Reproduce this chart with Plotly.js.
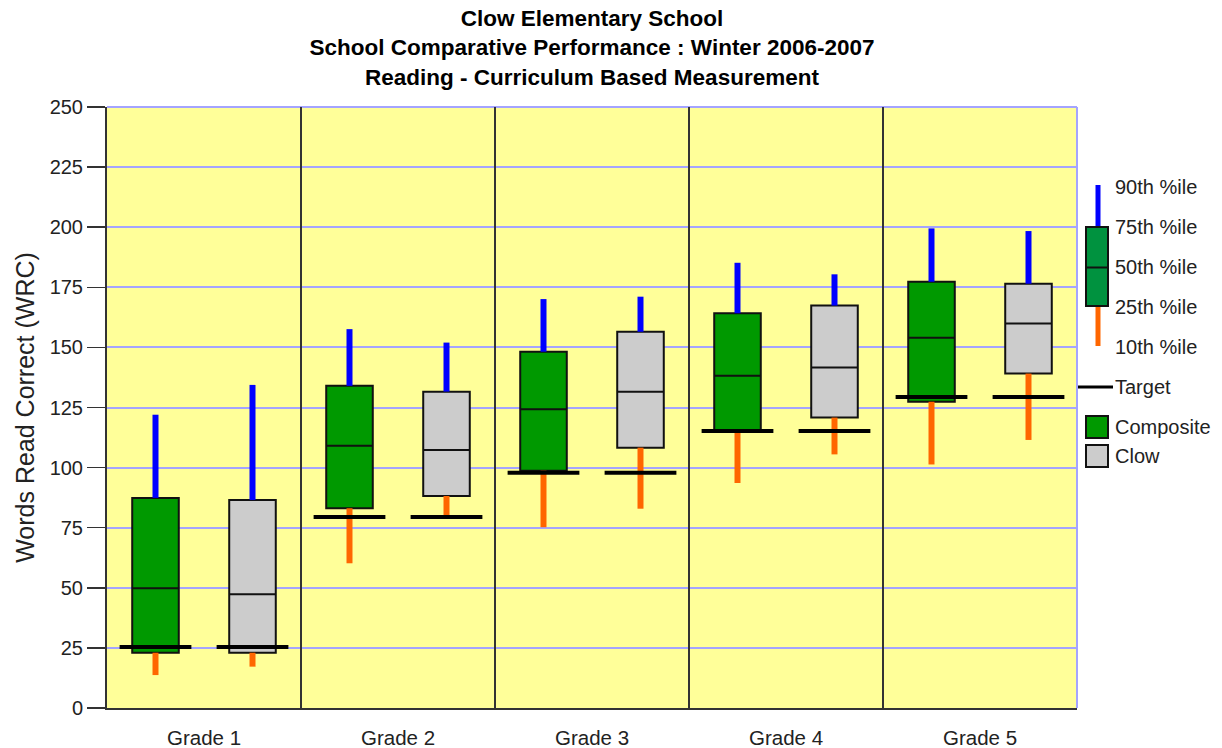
<!DOCTYPE html>
<html>
<head>
<meta charset="utf-8">
<script src="https://cdn.plot.ly/plotly-3.0.1.min.js"></script>
<style>html,body{margin:0;padding:0;background:#fff;}#chart{width:1222px;height:748px;}</style>
</head>
<body>
<div id="chart"></div>
<script>
// ---- Data ----
const categories = ['Grade 1', 'Grade 2', 'Grade 3', 'Grade 4', 'Grade 5'];

const compositeP10 = [13.7, 60.2, 75.2, 93.6, 101.3];
const compositeP25 = [23.0, 83.1, 98.7, 115.6, 127.4];
const compositeP50 = [49.8, 109.1, 124.3, 138.2, 154.0];
const compositeP75 = [87.4, 134.0, 148.2, 164.2, 177.3];
const compositeP90 = [122.0, 157.6, 170.1, 185.2, 199.5];

const clowP10 = [17.2, 79.9, 82.9, 105.5, 111.5];
const clowP25 = [23.0, 88.2, 108.3, 120.8, 139.1];
const clowP50 = [47.3, 107.3, 131.6, 141.6, 159.9];
const clowP75 = [86.5, 131.6, 156.5, 167.4, 176.5];
const clowP90 = [134.4, 152.0, 171.1, 180.4, 198.4];

const targets = [25.4, 79.5, 97.9, 115.2, 129.4];

const legendLabels = ['90th %ile', '75th %ile', '50th %ile', '25th %ile', '10th %ile'];
const seriesNames = ['Composite', 'Clow'];

// ---- Styling ----
const FONT = '"Liberation Sans", Arial, sans-serif';
const GREEN = '#009900';
const GRAY = '#cccccc';
const BLUE = '#0000ff';
const ORANGE = '#ff6600';
const GRID = '#a4a4ff';
const BOXW = 0.24, MEDW = 0.12, TGTW = 0.185, OFFSET = 0.25;

const centers = categories.map((c, i) => i + 0.5);

function boxTraces(offset, p10, p25, p50, p75, p90, fill, name) {
  const xs = centers.map(c => c + offset);
  const traces = [];
  traces.push({
    type: 'bar', name: name, x: xs, base: p25, y: p75.map((v, i) => v - p25[i]),
    width: BOXW, marker: {color: fill, line: {color: '#111', width: 2}},
    showlegend: false, hoverinfo: 'skip'
  });
  const upX = [], upY = [], loX = [], loY = [], mX = [], mY = [];
  xs.forEach((x, i) => {
    upX.push(x, x, null); upY.push(p75[i], p90[i], null);
    loX.push(x, x, null); loY.push(p10[i], p25[i], null);
    mX.push(x - MEDW, x + MEDW, null); mY.push(p50[i], p50[i], null);
  });
  traces.push({type: 'scatter', mode: 'lines', x: upX, y: upY, line: {color: BLUE, width: 6}, showlegend: false, hoverinfo: 'skip'});
  traces.push({type: 'scatter', mode: 'lines', x: loX, y: loY, line: {color: ORANGE, width: 6}, showlegend: false, hoverinfo: 'skip'});
  traces.push({type: 'scatter', mode: 'lines', x: mX, y: mY, line: {color: '#111', width: 2}, showlegend: false, hoverinfo: 'skip'});
  const tX = [], tY = [];
  xs.forEach((x, i) => { tX.push(x - TGTW, x + TGTW, null); tY.push(targets[i], targets[i], null); });
  traces.push({type: 'scatter', mode: 'lines', x: tX, y: tY, line: {color: '#000', width: 4}, showlegend: false, hoverinfo: 'skip'});
  return traces;
}

const data = [].concat(
  boxTraces(-OFFSET, compositeP10, compositeP25, compositeP50, compositeP75, compositeP90, GREEN, seriesNames[0]),
  boxTraces(OFFSET, clowP10, clowP25, clowP50, clowP75, clowP90, GRAY, seriesNames[1])
);

// ---- Layout helpers (pixel -> paper for the hand-drawn key) ----
const L = 107, R = 1077, T = 107, B = 708;
const px = p => (p - L) / (R - L);
const py = p => (B - p) / (B - T);

const shapes = [];
// category separators
for (let i = 1; i < categories.length; i++) {
  shapes.push({type: 'line', xref: 'x', yref: 'paper', x0: i, x1: i, y0: 0, y1: 1, line: {color: '#333', width: 2}, layer: 'above'});
}
// top / right frame in grid colour
shapes.push({type: 'line', xref: 'paper', yref: 'paper', x0: 0, x1: 1, y0: 1, y1: 1, line: {color: GRID, width: 2}, layer: 'below'});
shapes.push({type: 'line', xref: 'paper', yref: 'paper', x0: 1, x1: 1, y0: 0, y1: 1, line: {color: GRID, width: 2}, layer: 'below'});

// key: percentile glyph
shapes.push({type: 'line', xref: 'paper', yref: 'paper', x0: px(1098), x1: px(1098), y0: py(185), y1: py(227), line: {color: BLUE, width: 5}});
shapes.push({type: 'line', xref: 'paper', yref: 'paper', x0: px(1098), x1: px(1098), y0: py(306), y1: py(346), line: {color: ORANGE, width: 5}});
shapes.push({type: 'rect', xref: 'paper', yref: 'paper', x0: px(1086), x1: px(1108), y0: py(306), y1: py(227), fillcolor: '#00923f', line: {color: '#111', width: 2}});
shapes.push({type: 'line', xref: 'paper', yref: 'paper', x0: px(1086), x1: px(1108), y0: py(267.5), y1: py(267.5), line: {color: '#111', width: 2}});
// key: target
shapes.push({type: 'line', xref: 'paper', yref: 'paper', x0: px(1078), x1: px(1113), y0: py(387), y1: py(387), line: {color: '#000', width: 3}});
// key: series squares
shapes.push({type: 'rect', xref: 'paper', yref: 'paper', x0: px(1086), x1: px(1108), y0: py(438), y1: py(416), fillcolor: GREEN, line: {color: '#111', width: 2}});
shapes.push({type: 'rect', xref: 'paper', yref: 'paper', x0: px(1086), x1: px(1108), y0: py(467), y1: py(445), fillcolor: GRAY, line: {color: '#111', width: 2}});

const annotations = [];
const labelY = [187, 227, 267, 307, 347];
legendLabels.forEach((t, i) => {
  annotations.push({xref: 'paper', yref: 'paper', x: px(1113), y: py(labelY[i]), xanchor: 'left', yanchor: 'middle',
    text: t, showarrow: false, font: {family: FONT, size: 20, color: '#222'}});
});
annotations.push({xref: 'paper', yref: 'paper', x: px(1113), y: py(387), xanchor: 'left', yanchor: 'middle',
  text: 'Target', showarrow: false, font: {family: FONT, size: 20, color: '#222'}});
annotations.push({xref: 'paper', yref: 'paper', x: px(1113), y: py(427), xanchor: 'left', yanchor: 'middle',
  text: seriesNames[0], showarrow: false, font: {family: FONT, size: 20, color: '#222'}});
annotations.push({xref: 'paper', yref: 'paper', x: px(1113), y: py(456), xanchor: 'left', yanchor: 'middle',
  text: seriesNames[1], showarrow: false, font: {family: FONT, size: 20, color: '#222'}});

const layout = {
  width: 1222, height: 748,
  margin: {l: L, r: 1222 - R, t: T, b: 748 - B, pad: 0},
  paper_bgcolor: '#ffffff', plot_bgcolor: '#ffff99',
  showlegend: false, barmode: 'overlay',
  title: {
    text: '<b>Clow Elementary School<br>School Comparative Performance : Winter 2006-2007<br>Reading - Curriculum Based Measurement</b>',
    font: {family: FONT, size: 22.5, color: '#000'},
    x: 0.5, xref: 'paper', xanchor: 'center',
    y: 1 - 26 / 748, yref: 'container', yanchor: 'top'
  },
  xaxis: {
    range: [0, categories.length], tickvals: centers, ticktext: categories,
    showgrid: false, zeroline: false, showline: true, linecolor: '#333', linewidth: 2,
    ticks: 'outside', ticklen: 10, tickcolor: 'rgba(0,0,0,0)',
    tickfont: {family: FONT, size: 20.5, color: '#222'}, fixedrange: true
  },
  yaxis: {
    range: [0, 250], tickvals: [0, 25, 50, 75, 100, 125, 150, 175, 200, 225, 250],
    showgrid: true, gridcolor: GRID, gridwidth: 2, zeroline: false,
    showline: true, linecolor: '#333', linewidth: 2,
    ticks: 'outside', ticklen: 18, tickcolor: '#333', tickwidth: 1.5,
    tickfont: {family: FONT, size: 20, color: '#222'},
    title: {text: 'Words Read Correct (WRC)', font: {family: FONT, size: 25, color: '#222'}, standoff: 8},
    fixedrange: true
  },
  shapes: shapes,
  annotations: annotations
};

Plotly.newPlot('chart', data, layout, {displayModeBar: false, staticPlot: true});
</script>
</body>
</html>
